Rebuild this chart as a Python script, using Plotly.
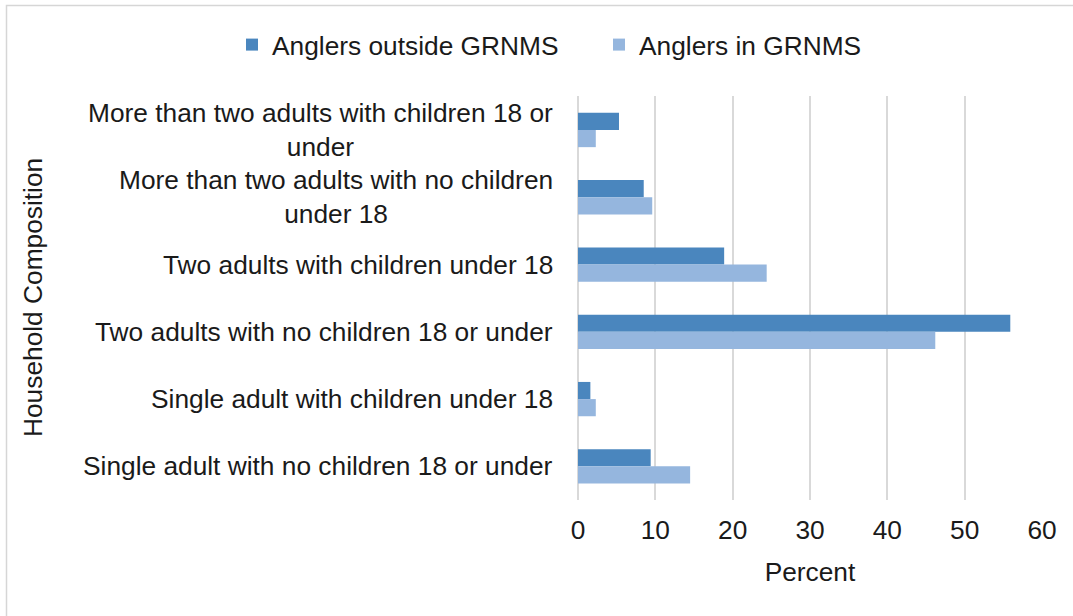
import plotly.graph_objects as go

# Household composition categories, top to bottom
categories = [
    "More than two adults with children 18 or<br>under",
    "More than two adults with no children<br>under 18",
    "Two adults with children under 18",
    "Two adults with no children 18 or under",
    "Single adult with children under 18",
    "Single adult with no children 18 or under",
]
outside_pct = [5.3, 8.5, 18.9, 55.9, 1.6, 9.4]
inside_pct = [2.3, 9.6, 24.4, 46.2, 2.3, 14.5]
x_ticks = [0, 10, 20, 30, 40, 50, 60]

W, H = 1073, 616
ML, MR, MT, MB = 578, 31, 96, 116
PW, PH = W - ML - MR, H - MT - MB

FONT = "Liberation Sans, Arial, sans-serif"
FS = 26.3
TXT = "#1a1a1a"
GRID = "#d9d9d9"


def px_x(px):
    return (px - ML) / PW


def px_y(py):
    return (H - MB - py) / PH


fig = go.Figure()
fig.add_trace(go.Bar(
    y=categories, x=outside_pct, orientation="h",
    name="Anglers outside GRNMS", marker=dict(color="#4a86be", line=dict(width=0)),
))
fig.add_trace(go.Bar(
    y=categories, x=inside_pct, orientation="h",
    name="Anglers in GRNMS", marker=dict(color="#95b6de", line=dict(width=0)),
))

# Category labels drawn as centred multi-line text to the left of the axis
annotations = [
    dict(x=px_x(555), y=c, xref="paper", yref="y", text=c, showarrow=False,
         xanchor="right", yanchor="middle", align="center",
         font=dict(family=FONT, size=FS, color=TXT))
    for c in categories
]
annotations.append(dict(
    x=px_x(33), y=0.5, xref="paper", yref="paper", text="Household Composition",
    showarrow=False, textangle=-90, xanchor="center", yanchor="middle",
    font=dict(family=FONT, size=FS, color=TXT),
))

fig.update_layout(
    width=W, height=H,
    margin=dict(l=ML, r=MR, t=MT, b=MB),
    paper_bgcolor="white", plot_bgcolor="white",
    barmode="group", bargap=0.49, bargroupgap=0,
    font=dict(family=FONT, size=FS, color=TXT),
    showlegend=True,
    legend=dict(
        orientation="h", x=px_x(232), y=px_y(45), xanchor="left", yanchor="middle",
        font=dict(family=FONT, size=FS, color=TXT), entrywidth=322,
        itemwidth=30, bgcolor="rgba(0,0,0,0)",
    ),
    xaxis=dict(
        range=[0, 60], tickvals=x_ticks, ticktext=[str(v) for v in x_ticks],
        showgrid=True, gridcolor=GRID, gridwidth=1.5,
        zeroline=True, zerolinecolor=GRID, zerolinewidth=1.5,
        showline=False, ticks="", ticklabelstandoff=12,
        tickfont=dict(family=FONT, size=FS, color=TXT),
        title=dict(text="Percent", font=dict(family=FONT, size=FS, color=TXT), standoff=18),
        fixedrange=True,
    ),
    yaxis=dict(
        categoryorder="array", categoryarray=categories, autorange="reversed",
        showticklabels=False, showgrid=False, zeroline=False, showline=False, ticks="",
        fixedrange=True,
    ),
    annotations=annotations,
    shapes=[dict(
        type="rect", xref="paper", yref="paper",
        x0=px_x(6.5), x1=px_x(W + 20), y0=px_y(H + 20), y1=px_y(5.5),
        line=dict(color="#d6d6d6", width=1.5), fillcolor="rgba(0,0,0,0)", layer="below",
    )],
)

fig.write_html("out.html")
